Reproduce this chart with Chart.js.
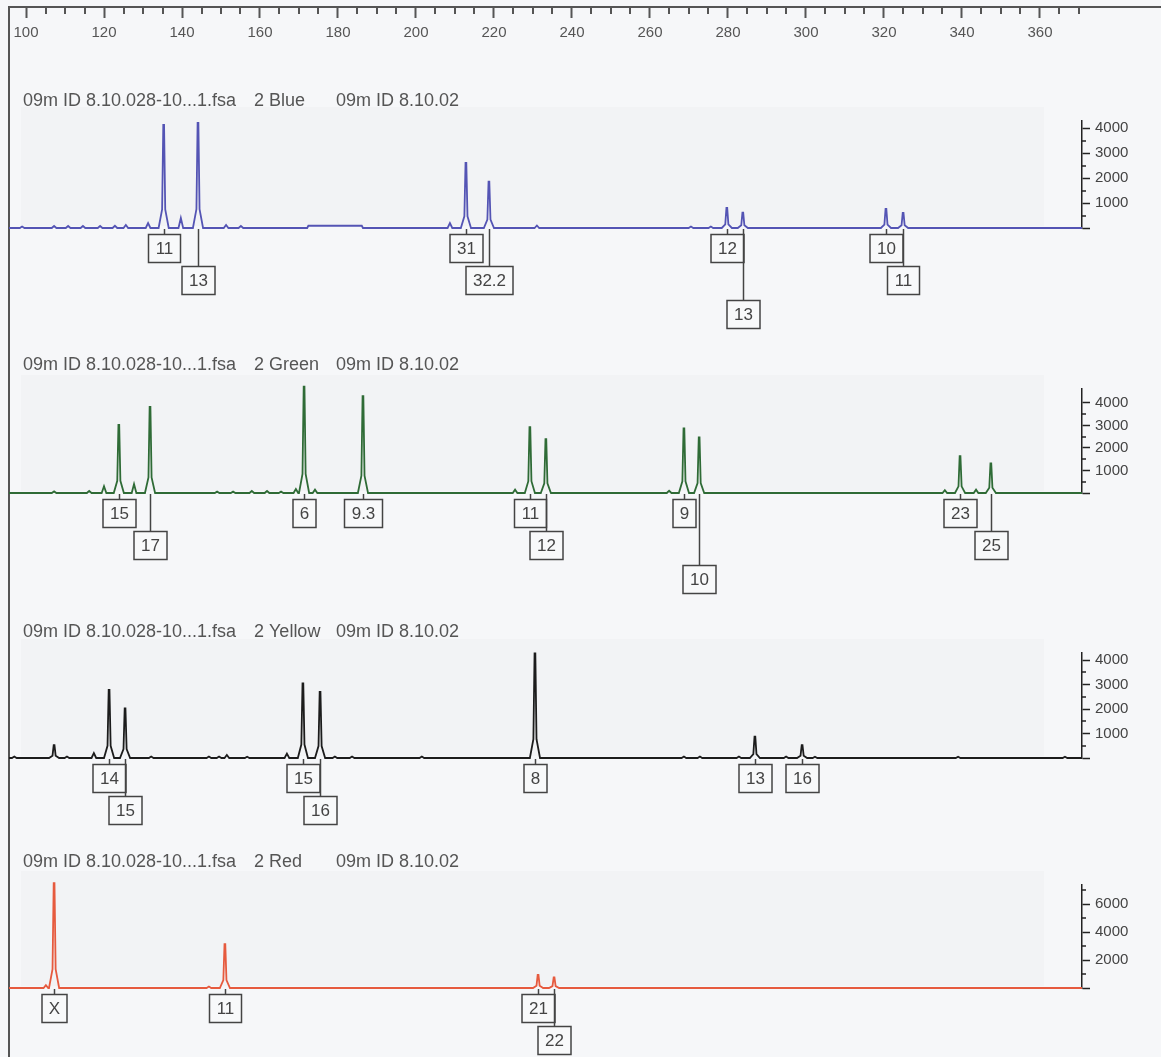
<!DOCTYPE html>
<html>
<head>
<meta charset="utf-8">
<script src="https://cdn.jsdelivr.net/npm/chart.js@4.4.1/dist/chart.umd.min.js"></script>
<style>
  html, body { margin: 0; padding: 0; background: #f6f7f9; }
  #page { position: relative; width: 1161px; height: 1057px; overflow: hidden; }
  #page canvas { position: absolute; left: 0; }
  #frame { position: absolute; left: 8px; top: 7px; width: 2px; height: 1050px; background: #555; }
</style>
</head>
<body>
<div id="page">
  <div id="frame"></div>
  <canvas id="axisTop" width="1161" height="50" style="top:0"></canvas>
  <canvas id="pBlue" width="1161" height="250" style="top:85px"></canvas>
  <canvas id="pGreen" width="1161" height="262" style="top:350px"></canvas>
  <canvas id="pYellow" width="1161" height="225" style="top:615px"></canvas>
  <canvas id="pRed" width="1161" height="215" style="top:842px"></canvas>
</div>
<script>
// size axis (bp)
const sizeTicks = [100, 120, 140, 160, 180, 200, 220, 240, 260, 280, 300, 320, 340, 360];

// peaks: size (bp) and height (RFU)
const blueAt  = [99.0, 107.2, 110.8, 114.6, 119.0, 122.8, 125.6, 131.3, 135.3, 139.7, 144.1, 151.3, 155.1, 208.7, 212.8, 218.7, 231.0, 270.5, 275.6, 279.7, 283.8, 320.5, 324.9];
const blueRfu = [60, 80, 80, 80, 80, 90, 120, 200, 4120, 400, 4200, 120, 80, 200, 2600, 1850, 100, 60, 60, 800, 610, 760, 600];
const blueShelf = [172.1, 186.4, 90]; // from, to, rfu

const greenAt  = [107.2, 116.2, 120.0, 123.8, 127.7, 131.8, 149.0, 153.1, 157.9, 161.8, 165.4, 169.2, 171.3, 174.1, 186.4, 225.4, 229.2, 233.3, 264.9, 268.7, 272.6, 335.6, 339.5, 343.6, 347.4];
const greenRfu = [70, 90, 300, 3020, 400, 3830, 60, 60, 90, 90, 60, 180, 4720, 150, 4300, 150, 2920, 2390, 100, 2870, 2470, 130, 1640, 150, 1320];

const yellowAt  = [97.0, 107.2, 110.5, 117.4, 121.3, 125.4, 132.1, 146.9, 149.5, 151.5, 156.7, 166.9, 171.0, 175.4, 179.2, 183.6, 201.5, 230.5, 268.7, 272.8, 282.8, 286.9, 294.9, 299.0, 302.3, 339.0, 366.4];
const yellowRfu = [60, 520, 60, 200, 2780, 2030, 60, 60, 60, 120, 50, 180, 3050, 2700, 60, 60, 60, 4270, 60, 60, 60, 870, 60, 530, 50, 50, 50];

const redAt  = [105.1, 107.2, 146.9, 151.0, 231.3, 235.4];
const redRfu = [200, 7500, 100, 3140, 930, 760];

// allele calls
const blueCalls = ['11', '13', '31', '32.2', '12', '13', '10', '11'];
const blueCallAt = [135.3, 144.1, 212.8, 218.7, 279.7, 283.8, 320.5, 324.9];
const blueCallRow = [1, 2, 1, 2, 1, 3, 1, 2];

const greenCalls = ['15', '17', '6', '9.3', '11', '12', '9', '10', '23', '25'];
const greenCallAt = [123.8, 131.8, 171.3, 186.4, 229.2, 233.3, 268.7, 272.6, 339.5, 347.4];
const greenCallRow = [1, 2, 1, 1, 1, 2, 1, 3, 1, 2];

const yellowCalls = ['14', '15', '15', '16', '8', '13', '16'];
const yellowCallAt = [121.3, 125.4, 171.0, 175.4, 230.5, 286.9, 299.0];
const yellowCallRow = [1, 2, 1, 2, 1, 1, 1];

const redCalls = ['X', '11', '21', '22'];
const redCallAt = [107.2, 151.0, 231.3, 235.4];
const redCallRow = [1, 1, 1, 2];

// RFU axis ticks
const rfuMajor4k = [0, 1000, 2000, 3000, 4000];
const rfuMinor4k = [500, 1500, 2500, 3500];
const rfuMajor6k = [0, 2000, 4000, 6000];
const rfuMinor6k = [1000, 3000, 5000, 7000];

const xLeft = 95.64, xRight = 370.77, xTopRight = 391.03;
const FONT = 'Arial, "Liberation Sans", sans-serif';
const rowOffset = [6, 38, 72];

function buildTrace(at, rfu, shelf) {
    const pts = [];
    at.forEach((s, i) => {
        const h = rfu[i];
        if (h >= 500) {
            pts.push({x: s - 1.3, y: 0}, {x: s - 0.4, y: h * 0.18}, {x: s - 0.1, y: h}, {x: s + 0.1, y: h},
                     {x: s + 0.4, y: h * 0.18}, {x: s + 1.3, y: 0});
        } else {
            pts.push({x: s - 0.6, y: 0}, {x: s, y: h}, {x: s + 0.6, y: 0});
        }
    });
    if (shelf) {
        pts.push({x: shelf[0], y: 0}, {x: shelf[0] + 0.3, y: shelf[2]},
                 {x: shelf[1] - 0.3, y: shelf[2]}, {x: shelf[1], y: 0});
    }
    pts.push({x: xLeft, y: 0}, {x: xRight, y: 0});
    pts.sort((a, b) => a.x - b.x);
    return pts;
}

// top size axis
const minorTop = [];
for (let v = 105; v <= 370; v += 5) if (!sizeTicks.includes(v)) minorTop.push(v);

new Chart(document.getElementById('axisTop'), {
    type: 'line',
    data: { datasets: [{ data: [] }] },
    options: {
        responsive: false,
        animation: false,
        layout: { padding: { left: 9, right: 0, top: 0, bottom: 0 } },
        plugins: { legend: { display: false }, tooltip: { enabled: false } },
        scales: {
            x: {
                type: 'linear', position: 'bottom', min: xLeft, max: xTopRight,
                afterFit(s) { s.height = 43; },
                afterBuildTicks(s) { s.ticks = sizeTicks.map(v => ({ value: v })); },
                border: { color: '#555', width: 2 },
                grid: { drawOnChartArea: false, tickLength: 11, tickWidth: 2, tickColor: '#555' },
                ticks: { autoSkip: false, maxRotation: 0, padding: 6, color: '#555',
                         font: { family: FONT, size: 15 } }
            },
            y: { display: false }
        }
    },
    plugins: [{
        id: 'minorTicks',
        afterDraw(chart) {
            const ctx = chart.ctx, xs = chart.scales.x, y0 = chart.chartArea.bottom;
            ctx.save();
            ctx.strokeStyle = '#555';
            ctx.lineWidth = 2;
            minorTop.forEach(v => {
                const px = Math.round(xs.getPixelForValue(v));
                ctx.beginPath();
                ctx.moveTo(px, y0);
                ctx.lineTo(px, y0 + 7);
                ctx.stroke();
            });
            ctx.restore();
        }
    }]
});

function panel(id, o) {
    const decor = {
        id: 'decor',
        beforeDatasetsDraw(chart) {
            const ctx = chart.ctx, a = chart.chartArea;
            ctx.save();
            ctx.fillStyle = 'rgba(0,0,0,0.014)';
            ctx.fillRect(a.left + 12, a.top - 14, a.right - a.left - 50, a.bottom - a.top + 12);
            ctx.restore();
        },
        afterDraw(chart) {
            const ctx = chart.ctx, xs = chart.scales.x, ys = chart.scales.y;
            const base = ys.getPixelForValue(0);
            ctx.save();
            // title
            ctx.fillStyle = '#555';
            ctx.font = '18px ' + FONT;
            ctx.textBaseline = 'middle';
            ctx.textAlign = 'left';
            ctx.fillText('09m ID 8.10.028-10...1.fsa', 23, o.titleY);
            ctx.fillText('2 ' + o.dye, 254, o.titleY);
            ctx.fillText('09m ID 8.10.02', 336, o.titleY);
            // minor rfu ticks
            ctx.strokeStyle = '#222';
            ctx.lineWidth = 1.5;
            const ax = chart.chartArea.right;
            o.minor.forEach(v => {
                const py = Math.round(ys.getPixelForValue(v));
                ctx.beginPath();
                ctx.moveTo(ax, py);
                ctx.lineTo(ax + 4, py);
                ctx.stroke();
            });
            // allele call boxes
            ctx.font = '17px ' + FONT;
            ctx.textAlign = 'center';
            o.calls.forEach((t, i) => {
                const px = Math.round(xs.getPixelForValue(o.callAt[i])) + 0.5;
                const top = Math.round(base + rowOffset[o.callRow[i] - 1]) + 0.5;
                const w = Math.round(ctx.measureText(t).width + 14), h = 28;
                ctx.strokeStyle = '#444';
                ctx.lineWidth = 1.5;
                ctx.beginPath();
                ctx.moveTo(px, base + 1);
                ctx.lineTo(px, top);
                ctx.stroke();
                ctx.fillStyle = '#f8f9fa';
                ctx.fillRect(px - w / 2, top, w, h);
                ctx.strokeRect(px - w / 2, top, w, h);
                ctx.fillStyle = '#444';
                ctx.fillText(t, px, top + h / 2 + 1);
            });
            ctx.restore();
        }
    };
    return new Chart(document.getElementById(id), {
        type: 'line',
        data: {
            datasets: [{
                data: buildTrace(o.at, o.rfu, o.shelf),
                borderColor: o.color,
                borderWidth: 1.8,
                pointRadius: 0,
                tension: 0,
                clip: false
            }]
        },
        options: {
            responsive: false,
            animation: false,
            layout: { padding: { left: 9, right: 0, top: o.padTop, bottom: o.padBottom } },
            plugins: { legend: { display: false }, tooltip: { enabled: false } },
            scales: {
                x: { type: 'linear', min: xLeft, max: xRight, display: false },
                y: {
                    position: 'right', min: 0, max: o.max,
                    afterFit(s) { s.width = 79; },
                    afterBuildTicks(s) { s.ticks = o.major.map(v => ({ value: v })); },
                    border: { color: '#222', width: 1.5 },
                    grid: { drawOnChartArea: false, tickLength: 8, tickWidth: 1.5, tickColor: '#222' },
                    ticks: { callback: v => (v === 0 ? '' : String(v)), padding: 5, color: '#444',
                             font: { family: FONT, size: 15 } }
                }
            }
        },
        plugins: [decor]
    });
}

panel('pBlue', { dye: 'Blue', color: '#5454b4', at: blueAt, rfu: blueRfu, shelf: blueShelf,
    calls: blueCalls, callAt: blueCallAt, callRow: blueCallRow,
    major: rfuMajor4k, minor: rfuMinor4k, max: 4280, padTop: 36, padBottom: 107, titleY: 16 });
panel('pGreen', { dye: 'Green', color: '#2f6b36', at: greenAt, rfu: greenRfu,
    calls: greenCalls, callAt: greenCallAt, callRow: greenCallRow,
    major: rfuMajor4k, minor: rfuMinor4k, max: 4620, padTop: 39, padBottom: 119, titleY: 15 });
panel('pYellow', { dye: 'Yellow', color: '#1c1c1c', at: yellowAt, rfu: yellowRfu,
    calls: yellowCalls, callAt: yellowCallAt, callRow: yellowCallRow,
    major: rfuMajor4k, minor: rfuMinor4k, max: 4290, padTop: 38, padBottom: 82, titleY: 17 });
panel('pRed', { dye: 'Red', color: '#e65a3e', at: redAt, rfu: redRfu,
    calls: redCalls, callAt: redCallAt, callRow: redCallRow,
    major: rfuMajor6k, minor: rfuMinor6k, max: 7360, padTop: 43, padBottom: 69, titleY: 20 });
</script>
</body>
</html>
